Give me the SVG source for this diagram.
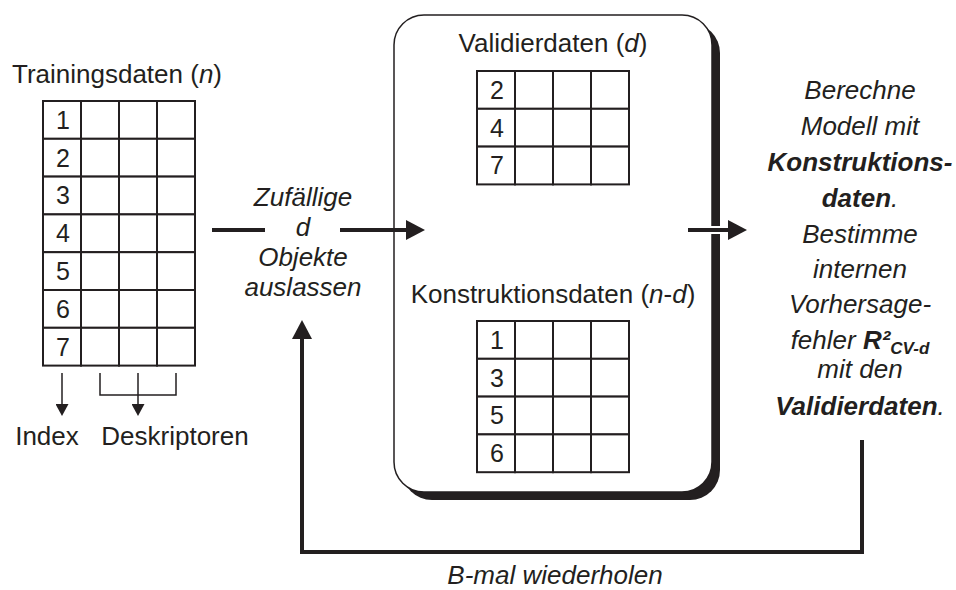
<svg xmlns="http://www.w3.org/2000/svg" width="956" height="590" viewBox="0 0 956 590">
  <style>
    text { font-family: "Liberation Sans", Arial, sans-serif; fill: #231f20; }
    .lbl { font-size: 26px; text-anchor: middle; }
    .num { font-size: 25px; text-anchor: middle; }
    .it { font-style: italic; }
    .b { font-weight: bold; }
    .grid { fill: #fff; stroke: #231f20; stroke-width: 2; }
    .thin { fill: none; stroke: #231f20; stroke-width: 1.5; }
    .flow { fill: none; stroke: #231f20; stroke-width: 4; }
  </style>
  <defs>
    <marker id="headL" markerUnits="userSpaceOnUse" viewBox="0 -10 19 20" markerWidth="19" markerHeight="20" refX="1" refY="0" orient="auto">
      <path d="M0,-10 L19,0 L0,10 Z" fill="#231f20"/>
    </marker>
    <marker id="headS" markerUnits="userSpaceOnUse" viewBox="0 -6.5 12 13" markerWidth="12" markerHeight="13" refX="1" refY="0" orient="auto">
      <path d="M0,-6.5 L12,0 L0,6.5 Z" fill="#231f20"/>
    </marker>
    <!-- one data row: index cell + three descriptor cells -->
    <g id="row">
      <rect class="grid" x="0" y="0" width="38" height="37.8"/>
      <rect class="grid" x="38" y="0" width="38" height="37.8"/>
      <rect class="grid" x="76" y="0" width="38" height="37.8"/>
      <rect class="grid" x="114" y="0" width="38" height="37.8"/>
    </g>
  </defs>

  <rect width="956" height="590" fill="#fff"/>

  <!-- training data table -->
  <g id="training">
    <text class="lbl" x="117" y="83">Trainingsdaten (<tspan class="it">n</tspan>)</text>
    <use href="#row" x="43" y="101"/>
    <use href="#row" x="43" y="138.8"/>
    <use href="#row" x="43" y="176.6"/>
    <use href="#row" x="43" y="214.4"/>
    <use href="#row" x="43" y="252.2"/>
    <use href="#row" x="43" y="290"/>
    <use href="#row" x="43" y="327.8"/>
    <text class="num" x="63" y="128.8">1</text>
    <text class="num" x="63" y="166.6">2</text>
    <text class="num" x="63" y="204.4">3</text>
    <text class="num" x="63" y="242.2">4</text>
    <text class="num" x="63" y="280">5</text>
    <text class="num" x="63" y="317.8">6</text>
    <text class="num" x="63" y="355.6">7</text>
  </g>

  <!-- column legend -->
  <g id="legend">
    <path class="thin" d="M62,373 V405" marker-end="url(#headS)"/>
    <path class="thin" d="M100,373 V395 H176 V373"/>
    <path class="thin" d="M138,373 V405" marker-end="url(#headS)"/>
    <text class="lbl" x="47" y="445">Index</text>
    <text class="lbl" x="175" y="445">Deskriptoren</text>
  </g>

  <!-- sampling step -->
  <g id="sampling">
    <text class="lbl it" x="303" y="206">Zufällige</text>
    <text class="lbl it" x="303" y="236">d</text>
    <text class="lbl it" x="303" y="266">Objekte</text>
    <text class="lbl it" x="303" y="296">auslassen</text>
  </g>

  <!-- split container -->
  <g id="split">
    <rect x="402" y="23" width="318" height="477" rx="30" fill="#231f20"/>
    <rect x="394" y="15" width="318" height="477" rx="30" fill="#fff" stroke="#231f20" stroke-width="1.5"/>
    <text class="lbl" x="553" y="52">Validierdaten (<tspan class="it">d</tspan>)</text>
    <use href="#row" x="477" y="71"/>
    <use href="#row" x="477" y="108.8"/>
    <use href="#row" x="477" y="146.6"/>
    <text class="num" x="497" y="98.8">2</text>
    <text class="num" x="497" y="136.6">4</text>
    <text class="num" x="497" y="174.4">7</text>
    <text class="lbl" x="553" y="303">Konstruktionsdaten (<tspan class="it">n</tspan>-<tspan class="it">d</tspan>)</text>
    <use href="#row" x="477" y="321"/>
    <use href="#row" x="477" y="358.8"/>
    <use href="#row" x="477" y="396.6"/>
    <use href="#row" x="477" y="434.4"/>
    <text class="num" x="497" y="348.8">1</text>
    <text class="num" x="497" y="386.6">3</text>
    <text class="num" x="497" y="424.4">5</text>
    <text class="num" x="497" y="462.2">6</text>
  </g>

  <!-- model fit and error estimate -->
  <g id="evaluate">
    <text class="lbl it" x="860" y="99">Berechne</text>
    <text class="lbl it" x="860" y="135">Modell mit</text>
    <text class="lbl it b" x="860" y="171">Konstruktions-</text>
    <text class="lbl it" x="860" y="207"><tspan class="b">daten</tspan>.</text>
    <text class="lbl it" x="860" y="243">Bestimme</text>
    <text class="lbl it" x="860" y="278">internen</text>
    <text class="lbl it" x="860" y="313">Vorhersage-</text>
    <text class="lbl it" x="860" y="349">fehler <tspan class="b">R²</tspan><tspan class="b" font-size="17" dy="5">CV-d</tspan></text>
    <text class="lbl it" x="860" y="378">mit den</text>
    <text class="lbl it" x="860" y="415"><tspan class="b">Validierdaten</tspan>.</text>
  </g>

  <!-- repeat label -->
  <g id="repeat">
    <text class="lbl it" x="555" y="584">B-mal wiederholen</text>
  </g>

  <!-- connectors -->
  <g id="connectors">
    <path class="flow" d="M212,230 H265"/>
    <path class="flow" d="M340,230 H407" marker-end="url(#headL)"/>
    <path d="M700,230 H724" fill="none" stroke="#fff" stroke-width="8"/>
    <path class="flow" d="M688,230 H729" marker-end="url(#headL)"/>
    <path class="flow" d="M862,440 V552 H302 V338" marker-end="url(#headL)"/>
  </g>
</svg>
